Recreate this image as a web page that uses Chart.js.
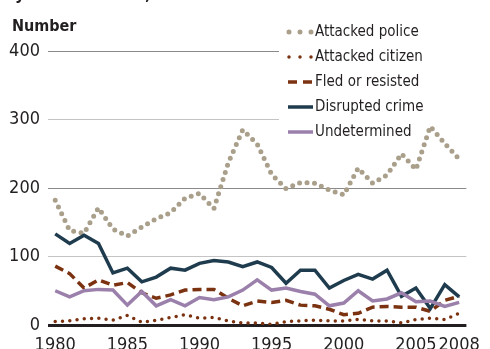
<!DOCTYPE html>
<html>
<head>
<meta charset="utf-8">
<script src="https://cdn.jsdelivr.net/npm/chart.js@4.4.0/dist/chart.umd.min.js"></script>
<style>
  html, body { margin: 0; padding: 0; background: #fff; }
  #wrap { width: 490px; height: 349px; }
</style>
</head>
<body>
<div id="wrap"><canvas id="myChart"></canvas></div>
<script>
// Dane do wykresu
const years = [];
for (let y = 1980; y <= 2008; y++) years.push(String(y));
const yearTicks = ['1980', '1985', '1990', '1995', '2000', '2005', '2008'];

const attackedPolice = [182, 138, 134, 171, 140, 130, 143, 155, 164, 185, 192, 170, 237, 285, 264, 220, 199, 208, 207, 197, 190, 229, 207, 219, 250, 227, 290, 265, 242];
const attackedCitizen = [5, 6, 9, 10, 7, 14, 4, 7, 11, 15, 10, 11, 6, 3, 3, 1, 5, 6, 7, 6, 6, 8, 6, 6, 3, 8, 10, 8, 17];
const fledResisted = [86, 75, 54, 66, 58, 62, 47, 39, 44, 51, 52, 52, 39, 28, 35, 33, 36, 29, 28, 23, 15, 17, 26, 27, 26, 26, 20, 36, 42];
const disruptedCrime = [133, 119, 131, 119, 76, 83, 63, 70, 83, 80, 90, 94, 92, 85, 92, 84, 61, 80, 80, 54, 65, 74, 67, 80, 42, 54, 24, 59, 41];
const undetermined = [50, 41, 50, 52, 51, 29, 49, 28, 37, 28, 40, 37, 41, 51, 66, 51, 54, 49, 45, 28, 32, 50, 35, 38, 47, 34, 35, 27, 33];

const FONT = '"DejaVu Sans Condensed", "Liberation Sans Narrow", sans-serif';
const textColor = '#231f20';

// Legenda rysowana recznie, na bialym tle zaslaniajacym linie siatki
const legendPlugin = {
    id: 'customLegend',
    beforeDatasetsDraw(chart) {
        const ctx = chart.ctx;
        ctx.save();
        ctx.fillStyle = '#fff';
        ctx.fillRect(279, 18, 205, 127);
        const x0 = 288, x1 = 313;
        let y = 32;
        chart.data.datasets.forEach(ds => {
            ctx.save();
            ctx.strokeStyle = ds.borderColor;
            ctx.lineWidth = ds.borderWidth;
            ctx.lineCap = ds.borderCapStyle || 'butt';
            ctx.setLineDash(ds.legendDash || []);
            ctx.beginPath();
            ctx.moveTo(ds.legendStart || x0, y);
            ctx.lineTo(x1, y);
            ctx.stroke();
            ctx.restore();
            ctx.fillStyle = textColor;
            ctx.font = '15px ' + FONT;
            ctx.textBaseline = 'middle';
            ctx.textAlign = 'left';
            ctx.fillText(ds.label, 315, y);
            y += 25;
        });
        ctx.restore();
    },
    afterDraw(chart) {
        const ctx = chart.ctx;
        ctx.save();
        ctx.fillStyle = textColor;
        ctx.textAlign = 'left';
        ctx.textBaseline = 'alphabetic';
        ctx.font = 'bold 17px ' + FONT;
        ctx.fillText('by circumstance, 1980\u20132008', 4, -1);
        ctx.font = 'bold 16px ' + FONT;
        ctx.fillText('Number', 12, 31);
        ctx.restore();
    }
};

const ctx = document.getElementById('myChart').getContext('2d');
const myChart = new Chart(ctx, {
    type: 'line',
    data: {
        labels: years,
        datasets: [{
            label: 'Attacked police',
            data: attackedPolice,
            borderColor: '#a99f8a',
            borderWidth: 5,
            borderCapStyle: 'round',
            borderDash: [0, 7.5],
            legendDash: [0, 11],
            legendStart: 289,
            order: 5
        }, {
            label: 'Attacked citizen',
            data: attackedCitizen,
            borderColor: '#7b3210',
            borderWidth: 3.5,
            borderCapStyle: 'round',
            borderDash: [0, 7.3],
            legendDash: [0, 11],
            legendStart: 289,
            order: 4
        }, {
            label: 'Fled or resisted',
            data: fledResisted,
            borderColor: '#7b3210',
            borderWidth: 3.5,
            borderDash: [9, 5],
            legendDash: [9, 6],
            order: 3
        }, {
            label: 'Disrupted crime',
            data: disruptedCrime,
            borderColor: '#1f3c4e',
            borderWidth: 3.5,
            order: 2
        }, {
            label: 'Undetermined',
            data: undetermined,
            borderColor: '#9a80ab',
            borderWidth: 3.5,
            order: 1
        }]
    },
    options: {
        responsive: true,
        maintainAspectRatio: false,
        animation: false,
        devicePixelRatio: 1,
        layout: {
            padding: { top: 51, right: 13, left: 0, bottom: 0 }
        },
        elements: {
            point: { radius: 0 },
            line: { tension: 0, fill: false, borderJoinStyle: 'miter' }
        },
        plugins: {
            legend: { display: false },
            tooltip: { enabled: false },
            title: { display: false }
        },
        scales: {
            x: {
                type: 'category',
                offset: true,
                grid: { display: false, drawTicks: false },
                border: { display: false },
                ticks: {
                    autoSkip: false,
                    maxRotation: 0,
                    padding: 10,
                    color: textColor,
                    font: { family: FONT, size: 18 },
                    callback: function (value) {
                        const lab = this.getLabelForValue(value);
                        return yearTicks.includes(lab) ? lab : '';
                    }
                },
                afterFit: scale => { scale.height = 24; }
            },
            y: {
                min: 0,
                max: 400,
                grid: {
                    drawTicks: false,
                    color: c => c.tick.value === 0 ? '#231f20' : (c.tick.value % 200 === 0 ? '#8a8a8a' : '#c4c4c4'),
                    lineWidth: c => c.tick.value === 0 ? 3 : 1
                },
                border: { display: false },
                ticks: {
                    stepSize: 100,
                    padding: 8,
                    color: textColor,
                    font: { family: FONT, size: 18 }
                },
                afterFit: scale => { scale.width = 48; }
            }
        }
    },
    plugins: [legendPlugin]
});
</script>
</body>
</html>
